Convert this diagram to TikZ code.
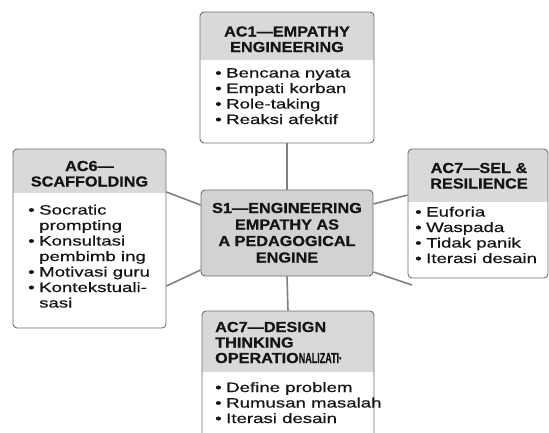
\documentclass[tikz,border=0pt]{standalone}
\usepackage{fontspec}
\setmainfont{Liberation Sans}
\newfontfamily\hdfont[FakeStretch=1.12,FakeBold=0.6]{Liberation Sans}
\newfontfamily\bdfont[FakeStretch=1.38,FakeBold=0.5]{Liberation Sans}
\newfontfamily\sqfont[FakeStretch=0.62,FakeBold=0.6]{Liberation Sans}
\usetikzlibrary{calc}

\definecolor{boxline}{HTML}{6E6E6E}
\definecolor{hdrfill}{HTML}{D9D9D9}
\definecolor{hubfill}{HTML}{D2D2D2}
\definecolor{linkgray}{HTML}{808080}
\definecolor{ink}{HTML}{141414}
\newlength{\hdrdrop}

\tikzset{
  hdr/.code={\setlength{\hdrdrop}{#1}},
  acbox/.style={draw=boxline, line width=0.9pt, rounded corners=4pt, inner sep=0pt, fill=white,
    path picture={\fill[hdrfill, sharp corners] (path picture bounding box.north west) rectangle ([yshift=-\hdrdrop]path picture bounding box.north east);}},
  hub/.style={draw=boxline, line width=0.9pt, rounded corners=4pt, inner sep=0pt, fill=hubfill},
  hdtxt/.style={inner sep=0pt, text=ink, font=\hdfont\bfseries\fontsize{14.5}{15.5}\selectfont},
  bdtxt/.style={inner sep=0pt, text=ink, font=\bdfont\fontsize{13.5}{15.5}\selectfont},
  link/.style={draw=linkgray, line width=1.6pt},
}

\begin{document}
\begin{tikzpicture}[x=1pt,y=-1pt]
    \path[use as bounding box, clip] (0,0) rectangle (549,432); % Rahmen

    % Kaesten
    \node[acbox, hdr=48pt, minimum width=174pt, minimum height=131pt] (ac1) at (287,77.5) {};
    \node[acbox, hdr=44pt, minimum width=153pt, minimum height=179pt] (ac6) at (89.5,238.5) {};
    \node[acbox, hdr=53pt, minimum width=140pt, minimum height=129pt] (sel) at (478,213.5) {};
    \node[acbox, hdr=61pt, minimum width=172pt, minimum height=134pt] (dt) at (288,378) {};
    \node[hub, minimum width=172pt, minimum height=86pt] (s1) at (287,233) {};

    % Verbindungen
    \draw[link] (ac1.south) -- (s1.north);
    \draw[link] (s1.south) -- (dt.north);
    \draw[link] ([yshift=46.5pt]ac6.east) -- ([yshift=28pt]s1.west);
    \draw[link] ([yshift=-47.5pt]ac6.east) -- ([yshift=-37pt]s1.west);
    \draw[link] ([yshift=29pt]s1.east) -- ([yshift=18.5pt]sel.west);
    \coordinate (selend) at (412,285);
    \draw[link] ([yshift=-39pt]s1.east) -- (selend);

    % Titel
    \node[hdtxt, anchor=base] (ac1h) at (287,36.5) {\begin{tabular}[t]{@{}c@{}}AC1—EMPATHY\\ENGINEERING\end{tabular}};
    \node[hdtxt, anchor=base] (ac6h) at (89.5,171) {\begin{tabular}[t]{@{}c@{}}AC6—\\SCAFFOLDING\end{tabular}};
    \node[hdtxt, anchor=base] (selh) at (479,173) {\begin{tabular}[t]{@{}c@{}}AC7—SEL \&\\RESILIENCE\end{tabular}};
    \node[hdtxt, anchor=base west] (dth) at (215,332) {\begin{tabular}[t]{@{}l@{}}AC7—DESIGN\\THINKING\\OPERATIO{\sqfont NALIZATI·}\end{tabular}};
    \node[hdtxt, anchor=base, font=\hdfont\bfseries\fontsize{14.5}{16.5}\selectfont] (s1h) at (287,213) {\begin{tabular}[t]{@{}c@{}}S1—ENGINEERING\\EMPATHY AS\\A PEDAGOGICAL\\ENGINE\end{tabular}};

    % Listen
    \node[bdtxt, anchor=base west] (ac1b) at (215,77.5) {\begin{tabular}[t]{@{}l@{\hspace{4.5pt}}l@{}}
        • & Bencana nyata\\ • & Empati korban\\ • & Role-taking\\ • & Reaksi afektif\end{tabular}};
    \node[bdtxt, anchor=base west] (ac6b) at (28,214.5) {\begin{tabular}[t]{@{}l@{\hspace{4.5pt}}l@{}}
        • & Socratic\\ & prompting\\ • & Konsultasi\\ & pembimb ing\\ • & Motivasi guru\\ • & Kontekstuali-\\ & sasi\end{tabular}};
    \node[bdtxt, anchor=base west] (selb) at (415,216.5) {\begin{tabular}[t]{@{}l@{\hspace{4.5pt}}l@{}}
        • & Euforia\\ • & Waspada\\ • & Tidak panik\\ • & Iterasi desain\end{tabular}};
    \node[bdtxt, anchor=base west] (dtb) at (215,392) {\begin{tabular}[t]{@{}l@{\hspace{4.5pt}}l@{}}
        • & Define problem\\ • & Rumusan masalah\\ • & Iterasi desain\end{tabular}};
\end{tikzpicture}
\end{document}
